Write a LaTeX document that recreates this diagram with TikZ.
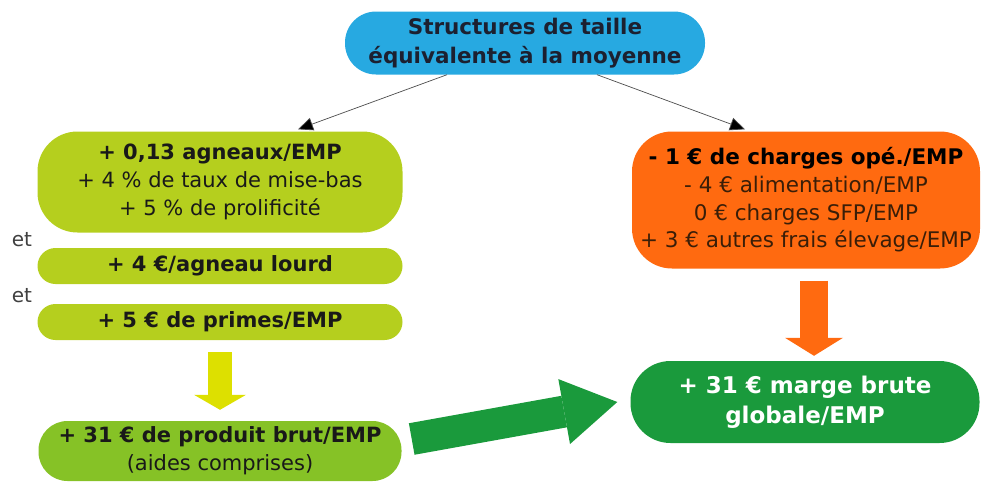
\documentclass[tikz,border=0pt]{standalone}
\usepackage{fontspec}
\setmainfont{DejaVu Sans}
\usepackage{xcolor}
\usetikzlibrary{arrows.meta}
\definecolor{sky}{HTML}{27A9E1}
\definecolor{lime}{HTML}{B5CF1E}
\definecolor{leaf}{HTML}{86C226}
\definecolor{forest}{HTML}{1A9A3C}
\definecolor{tangerine}{HTML}{FF6A10}
\definecolor{lemon}{HTML}{DDE000}
\definecolor{navy-text}{HTML}{1C2030}
\definecolor{brown-text}{HTML}{3A1E08}
\tikzset{
    pill-box/.style = {rectangle, rounded corners=40pt, inner sep=0pt, align=center, text=black!90, font=\fontsize{21}{28}\selectfont},
    small-pill/.style = {pill-box, rounded corners=18pt, fill=lime, minimum width=365pt, minimum height=36pt},
    et-label/.style = {text=black!75, font=\fontsize{20}{24}\selectfont},
    thin-link/.style = {draw=black!70, line width=0.7pt, -{Triangle[length=15pt,width=13pt,fill=black]}},
    fat-arrow/.style = {line width=#1, line cap=butt},
}

\begin{document}
\begin{tikzpicture}[x=1pt,y=1pt]
\useasboundingbox (0,0) rectangle (984,-482);
% top question
\node[pill-box, fill=sky, rounded corners=31pt, minimum width=360pt, minimum height=63pt, text=navy-text, font=\bfseries\fontsize{21.5}{29}\selectfont] (top) at (525,-43) {Structures de taille\\équivalente à la moyenne};
% product side
\node[pill-box, fill=lime, minimum width=365pt, minimum height=101pt] (agn) at (220,-182) {\textbf{+ 0,13 agneaux/EMP}\\+ 4 \% de taux de mise-bas\\+ 5 \% de prolificité};
\node[et-label] (et1) at (22,-240) {et};
\node[small-pill] (lourd) at (220,-266) {\textbf{+ 4 €/agneau lourd}};
\node[et-label] (et2) at (22,-296) {et};
\node[small-pill] (prim) at (220,-322) {\textbf{+ 5 € de primes/EMP}};
\node[pill-box, fill=leaf, rounded corners=29pt, minimum width=363pt, minimum height=60pt] (brut) at (220,-451) {\textbf{+ 31 € de produit brut/EMP}\\(aides comprises)};
% charges side
\node[pill-box, fill=tangerine, minimum width=348pt, minimum height=137pt, text=brown-text, font=\fontsize{21.5}{27.7}\selectfont] (ope) at (806,-200) {\textbf{\color{black}- 1 € de charges opé./EMP}\\- 4 € alimentation/EMP\\0 € charges SFP/EMP\\+ 3 € autres frais élevage/EMP};
\node[pill-box, fill=forest, minimum width=349pt, minimum height=82pt, text=white, font=\bfseries\fontsize{23}{30}\selectfont] (marge) at (805,-402) {+ 31 € marge brute\\globale/EMP};
% links
\draw[thin-link] ([xshift=-78pt]top.south) -- ([xshift=78pt,yshift=2pt]agn.north);
\draw[thin-link] ([xshift=72pt]top.south) -- ([xshift=-61pt,yshift=2pt]ope.north);
\draw[fat-arrow=24pt, draw=lemon, -{Triangle[length=15pt,width=52pt,line width=0pt]}] ([yshift=-12pt]prim.south) -- ([yshift=11pt]brut.north);
\draw[fat-arrow=28pt, draw=tangerine, -{Triangle[length=18pt,width=58pt,line width=0pt]}] ([xshift=8pt,yshift=-12pt]ope.south) -- ([xshift=9pt,yshift=5pt]marge.north);
\draw[fat-arrow=32pt, draw=forest, -{Triangle[length=54pt,width=66pt,line width=0pt]}] ([xshift=10pt,yshift=12pt]brut.east) -- ([xshift=-13pt]marge.west);
\end{tikzpicture}
\end{document}
